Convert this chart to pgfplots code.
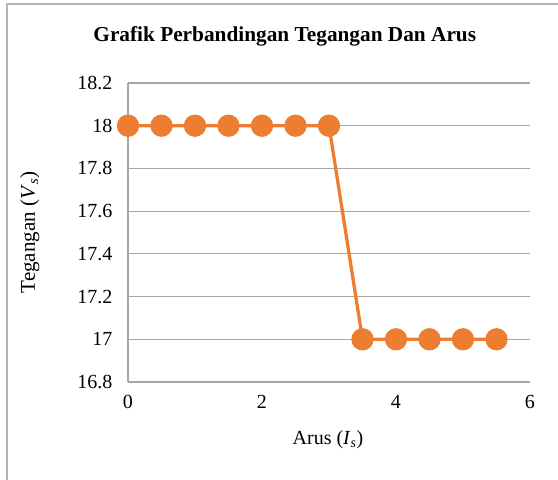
\documentclass[border=0pt]{standalone}
\usepackage{fontspec}
\setmainfont{Liberation Serif}
\usepackage{pgfplots}
\pgfplotsset{compat=1.18}
\definecolor{exorange}{HTML}{ED7D31}
\definecolor{exgrid}{RGB}{166,166,166}
\definecolor{exframe}{RGB}{180,180,180}
\begin{document}
\begin{tikzpicture}
\path[use as bounding box] (0,0) rectangle (558pt,480pt);
\draw[exframe, line width=1.2pt] (7pt,0) -- (7pt,476pt) -- (560pt,476pt);
\begin{axis}[
  at={(128pt,98pt)}, anchor=south west,
  scale only axis, width=402pt, height=299pt,
  xmin=0, xmax=6, ymin=16.8, ymax=18.2,
  xtick={0,2,4,6},
  ytick={16.8,17,17.2,17.4,17.6,17.8,18,18.2},
  yticklabels={16.8,17,17.2,17.4,17.6,17.8,18,18.2},
  major tick length=0pt,
  axis x line*=bottom, axis y line*=left,
  axis line style={exgrid, line width=1.1pt, -},
  ymajorgrids, grid style={exgrid, line width=1.1pt},
  /pgf/number format/assume math mode=true,
  tick label style={font=\fontsize{20}{24}\selectfont},
  yticklabel style={xshift=-12pt},
  xticklabel style={yshift=-10pt},
  title={\textbf{Grafik Perbandingan Tegangan Dan Arus}},
  title style={font=\fontsize{21.3}{25}\selectfont, at={(axis description cs:0.39,1.137)}, anchor=center},
  xlabel={Arus (\textit{I}\textsubscript{\textit{s}})},
  xlabel style={font=\fontsize{20}{24}\selectfont, at={(axis description cs:0.4975,-0.194)}, anchor=center},
  ylabel={Tegangan (\textit{V}\textsubscript{\textit{s}})},
  ylabel style={font=\fontsize{21}{25}\selectfont, at={(axis description cs:-0.244,0.5)}, anchor=center},
  clip=false,
]
\addplot[exorange, line width=3.3pt, mark=*, mark size=9.5pt, mark options={fill=exorange, draw=none}] coordinates {
(0,18) (0.5,18) (1,18) (1.5,18) (2,18) (2.5,18) (3,18)
(3.5,17) (4,17) (4.5,17) (5,17) (5.5,17)
};
\end{axis}
\end{tikzpicture}
\end{document}
